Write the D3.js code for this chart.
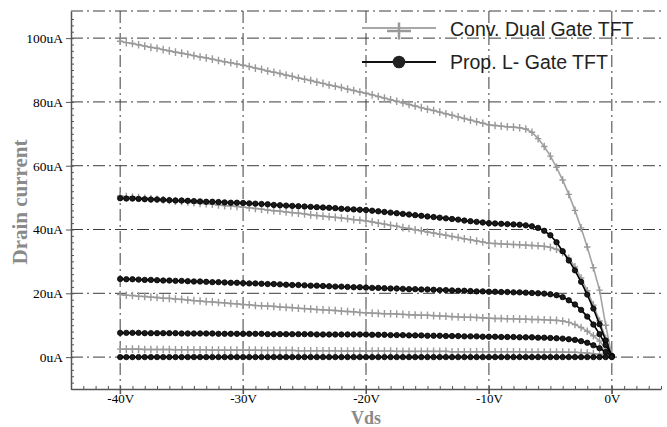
<html>
<head>
<meta charset="utf-8">
<title>Drain current vs Vds</title>
<script src="https://cdn.jsdelivr.net/npm/d3@7"></script>
<style>
  body { margin: 0; background: #fff; }
  .grid line { stroke: #3c3c3c; stroke-width: 1; stroke-dasharray: 12,4,2,4; }
  .axis path, .axis line { stroke: #555; }
  .axis text { font-family: "Liberation Serif", serif; font-size: 13.5px; fill: #000; }
  .title { font-family: "Liberation Serif", serif; font-weight: bold; fill: #8a8a8a; }
  .legend text { font-family: "Liberation Sans", Arial, sans-serif; font-size: 19.5px; fill: #222; }
</style>
</head>
<body>
<div id="chart"></div>
<script>
// sweep voltage (V)
const vds = [-40,-39.5,-39,-38.5,-38,-37.5,-37,-36.5,-36,-35.5,-35,-34.5,-34,-33.5,-33,-32.5,-32,-31.5,-31,-30.5,
  -30,-29.5,-29,-28.5,-28,-27.5,-27,-26.5,-26,-25.5,-25,-24.5,-24,-23.5,-23,-22.5,-22,-21.5,-21,-20.5,
  -20,-19.5,-19,-18.5,-18,-17.5,-17,-16.5,-16,-15.5,-15,-14.5,-14,-13.5,-13,-12.5,-12,-11.5,-11,-10.5,
  -10,-9.5,-9,-8.5,-8,-7.5,-7,-6.5,-6,-5.5,-5,-4.5,-4,-3.5,-3,-2.5,-2,-1.5,-1,-0.5,0];

// Conv. Dual Gate TFT (uA)
const conv1 = [99.0,98.6,98.3,97.9,97.5,97.1,96.8,96.4,96.0,95.6,95.3,94.9,94.5,94.1,93.8,93.4,93.0,92.6,92.3,91.9,91.5,
  91.1,90.6,90.2,89.7,89.3,88.9,88.4,88.0,87.5,87.1,86.7,86.2,85.8,85.3,84.9,84.5,84.0,83.6,83.1,82.7,
  82.2,81.7,81.2,80.7,80.2,79.7,79.2,78.7,78.2,77.7,77.3,76.8,76.3,75.8,75.3,74.8,74.3,73.8,73.3,72.8,
  72.6,72.4,72.2,72.1,71.9,71.5,70.5,68.5,66.0,63.0,59.5,55.5,51.0,46.0,40.5,34.5,28.0,21.0,10.0,0.3];
const conv2 = [50.5,50.3,50.2,50.0,49.8,49.6,49.5,49.3,49.1,48.9,48.8,48.6,48.4,48.2,48.1,47.9,47.7,47.5,47.4,47.2,47.0,
  46.8,46.6,46.4,46.1,45.9,45.7,45.5,45.3,45.1,44.9,44.6,44.4,44.2,44.0,43.8,43.6,43.4,43.1,42.9,42.7,
  42.4,42.0,41.7,41.3,41.0,40.6,40.3,39.9,39.6,39.2,38.9,38.5,38.2,37.8,37.5,37.1,36.8,36.4,36.1,35.7,
  35.6,35.5,35.4,35.3,35.2,35.1,35.0,34.9,34.7,34.4,33.8,32.8,31.0,28.3,24.8,20.8,16.3,11.3,5.8,0.3];
const conv3 = [19.6,19.4,19.3,19.1,19.0,18.8,18.7,18.5,18.4,18.2,18.1,17.9,17.7,17.6,17.4,17.3,17.1,17.0,16.8,16.7,16.5,
  16.4,16.2,16.1,16.0,15.9,15.7,15.6,15.5,15.3,15.2,15.1,14.9,14.8,14.7,14.6,14.4,14.3,14.2,14.0,13.9,
  13.8,13.7,13.6,13.6,13.5,13.4,13.3,13.2,13.1,13.1,13.0,12.9,12.8,12.7,12.6,12.5,12.5,12.4,12.3,12.2,
  12.1,12.1,12.0,12.0,11.9,11.9,11.8,11.8,11.7,11.6,11.5,11.3,10.9,10.2,9.3,8.1,6.7,5.0,2.8,0.3];
const conv4 = [2.5,2.5,2.5,2.5,2.4,2.4,2.4,2.4,2.4,2.3,2.3,2.3,2.3,2.3,2.3,2.2,2.2,2.2,2.2,2.2,2.2,
  2.2,2.2,2.1,2.1,2.1,2.1,2.1,2.1,2.0,2.0,2.0,2.0,2.0,2.0,2.0,1.9,1.9,1.9,1.9,1.9,
  1.9,1.9,1.9,1.9,1.8,1.8,1.8,1.8,1.8,1.8,1.8,1.8,1.8,1.7,1.7,1.7,1.7,1.7,1.7,1.7,
  1.7,1.7,1.7,1.7,1.7,1.6,1.6,1.6,1.6,1.6,1.6,1.6,1.5,1.5,1.4,1.3,1.1,0.9,0.6,0.3];

// Prop. L- Gate TFT (uA)
const prop1 = [49.8,49.7,49.7,49.6,49.5,49.4,49.4,49.3,49.2,49.1,49.1,49.0,48.9,48.8,48.7,48.7,48.6,48.5,48.4,48.4,48.3,
  48.2,48.1,48.0,47.9,47.7,47.6,47.5,47.4,47.3,47.2,47.1,47.0,46.9,46.8,46.7,46.5,46.4,46.3,46.2,46.1,
  45.9,45.7,45.5,45.3,45.1,44.9,44.7,44.5,44.3,44.1,43.9,43.7,43.5,43.3,43.1,42.8,42.6,42.4,42.2,42.0,
  41.9,41.8,41.7,41.6,41.5,41.3,41.0,40.5,39.6,38.2,36.0,33.2,30.3,27.2,23.6,19.6,15.2,10.3,5.2,0.3];
const prop2 = [24.5,24.4,24.4,24.3,24.2,24.2,24.1,24.0,24.0,23.9,23.9,23.8,23.7,23.7,23.6,23.5,23.5,23.4,23.3,23.3,23.2,
  23.1,23.1,23.0,22.9,22.9,22.8,22.7,22.6,22.6,22.5,22.4,22.4,22.3,22.2,22.1,22.1,22.0,21.9,21.9,21.8,
  21.7,21.7,21.6,21.5,21.5,21.4,21.3,21.3,21.2,21.2,21.1,21.0,21.0,20.9,20.8,20.8,20.7,20.6,20.6,20.5,
  20.5,20.4,20.4,20.3,20.3,20.2,20.1,20.0,19.9,19.7,19.4,18.8,17.8,16.5,14.8,12.7,10.2,7.2,3.8,0.3];
const prop3 = [7.6,7.6,7.6,7.6,7.5,7.5,7.5,7.5,7.5,7.5,7.4,7.4,7.4,7.4,7.4,7.4,7.3,7.3,7.3,7.3,7.3,
  7.3,7.3,7.3,7.2,7.2,7.2,7.2,7.2,7.2,7.2,7.2,7.1,7.1,7.1,7.1,7.1,7.1,7.1,7.1,7.1,
  7.0,7.0,7.0,6.9,6.9,6.9,6.8,6.8,6.8,6.7,6.7,6.7,6.6,6.6,6.6,6.5,6.5,6.5,6.4,6.4,
  6.4,6.3,6.3,6.3,6.2,6.2,6.2,6.1,6.1,6.0,5.9,5.8,5.6,5.4,5.0,4.5,3.7,2.8,1.6,0.3];
const prop4 = [0,0,0,0,0,0,0,0,0,0,0,0,0,0,0,0,0,0,0,0,0,
  0,0,0,0,0,0,0,0,0,0,0,0,0,0,0,0,0,0,0,0,
  0,0,0,0,0,0,0,0,0,0,0,0,0,0,0,0,0,0,0,0,
  0,0,0,0,0,0,0,0,0,0,0,0,0,0,0,0,0,0,0,0];

const convSeries = [conv1, conv2, conv3, conv4];
const propSeries = [prop1, prop2, prop3, prop4];

const xTicks = [-40, -30, -20, -10, 0];
const xTickLabels = ["-40V", "-30V", "-20V", "-10V", "0V"];
const yTicks = [0, 20, 40, 60, 80, 100];
const yTickLabels = ["0uA", "20uA", "40uA", "60uA", "80uA", "100uA"];
const legendNames = ["Conv. Dual Gate TFT", "Prop. L- Gate TFT"];

let width = 667, height = 427,
    margin = { left: 71, right: 6, top: 11, bottom: 38 };

let svg = d3.select("#chart").append("svg")
    .attr("width", width)
    .attr("height", height);

let x = d3.scaleLinear().domain([-44, 4]).range([margin.left, width - margin.right]),
    y = d3.scaleLinear().domain([-10, 108.5]).range([height - margin.bottom, margin.top]);

let x0 = margin.left, x1 = width - margin.right,
    yTop = margin.top, yBot = height - margin.bottom;

// dash-dot grid
let grid = svg.append("g").attr("class", "grid");
grid.selectAll(".h").data(yTicks).enter().append("line")
    .attr("x1", x0).attr("x2", x1)
    .attr("y1", d => y(d)).attr("y2", d => y(d));
grid.selectAll(".v").data(xTicks).enter().append("line")
    .attr("x1", d => x(d)).attr("x2", d => x(d))
    .attr("y1", yTop).attr("y2", yBot + 5);
grid.append("line").attr("x1", x0).attr("x2", x1).attr("y1", yTop).attr("y2", yTop);

// minor ticks (inward)
svg.append("g").attr("class", "axis")
    .attr("transform", "translate(" + x0 + ",0)")
    .call(d3.axisLeft(y).tickValues(d3.range(-10, 108, 2)).tickSize(-3).tickFormat(""))
    .call(g => g.select(".domain").remove());
svg.append("g").attr("class", "axis")
    .attr("transform", "translate(0," + yBot + ")")
    .call(d3.axisBottom(x).tickValues(d3.range(-44, 5, 1)).tickSize(-3).tickFormat(""))
    .call(g => g.select(".domain").remove());

// major axes
let yAxis = svg.append("g").attr("class", "axis")
    .attr("transform", "translate(" + x0 + ",0)")
    .call(d3.axisLeft(y).tickValues(yTicks).tickSize(5).tickSizeOuter(0)
        .tickFormat((d, i) => yTickLabels[i]));
yAxis.select(".domain").attr("stroke-width", 1.5);

let xAxis = svg.append("g").attr("class", "axis")
    .attr("transform", "translate(0," + yBot + ")")
    .call(d3.axisBottom(x).tickValues(xTicks).tickSize(5).tickSizeOuter(0)
        .tickFormat((d, i) => xTickLabels[i]));
xAxis.select(".domain").attr("stroke-width", 1.5);
xAxis.selectAll("text").attr("y", 5).attr("dy", "0.71em").style("font-size", "13px");

// axis titles
svg.append("text").attr("class", "title")
    .attr("transform", "translate(27," + ((yTop + yBot) / 2 + 2) + ") rotate(-90)")
    .attr("text-anchor", "middle")
    .style("font-size", "21px")
    .text("Drain current");
svg.append("text").attr("class", "title")
    .attr("x", x(-20)).attr("y", 423.5)
    .attr("text-anchor", "middle")
    .style("font-size", "18px")
    .text("Vds");

let line = d3.line()
    .x((d, i) => x(vds[i]))
    .y(d => y(d));

let plus = "M-3.2,0H3.2M0,-3.8V3.8";

// conventional curves (grey, plus markers)
convSeries.forEach(function (s) {
    svg.append("path").datum(s)
        .attr("d", line)
        .attr("fill", "none")
        .attr("stroke", "#a3a3a3")
        .attr("stroke-width", 1.6);
    svg.append("g").selectAll("path").data(s).enter().append("path")
        .attr("d", plus)
        .attr("transform", (d, i) => "translate(" + x(vds[i]) + "," + y(d) + ")")
        .attr("stroke", "#999")
        .attr("stroke-width", 1.4)
        .attr("fill", "none");
});

// proposed curves (black, circle markers)
propSeries.forEach(function (s) {
    svg.append("path").datum(s)
        .attr("d", line)
        .attr("fill", "none")
        .attr("stroke", "#000")
        .attr("stroke-width", 1.6);
    svg.append("g").selectAll("circle").data(s).enter().append("circle")
        .attr("cx", (d, i) => x(vds[i]))
        .attr("cy", d => y(d))
        .attr("r", 2.7)
        .attr("fill", "#1a1a1a")
        .attr("stroke", "#000")
        .attr("stroke-width", 0.8);
});

// legend
let legend = svg.append("g").attr("class", "legend");
legend.append("line")
    .attr("x1", 362).attr("x2", 436).attr("y1", 28).attr("y2", 28)
    .attr("stroke", "#a8a8a8").attr("stroke-width", 1.8);
legend.append("path")
    .attr("d", "M-12,0H12M0,-8.5V8.5")
    .attr("transform", "translate(399,31)")
    .attr("stroke", "#999").attr("stroke-width", 2.5);
legend.append("text").attr("x", 450).attr("y", 35.5).text(legendNames[0]);

legend.append("line")
    .attr("x1", 362).attr("x2", 436).attr("y1", 62).attr("y2", 62)
    .attr("stroke", "#111").attr("stroke-width", 1.8);
legend.append("circle")
    .attr("cx", 399).attr("cy", 62).attr("r", 6.3)
    .attr("fill", "#222");
legend.append("text").attr("x", 450).attr("y", 68.5).text(legendNames[1]);
</script>
</body>
</html>
